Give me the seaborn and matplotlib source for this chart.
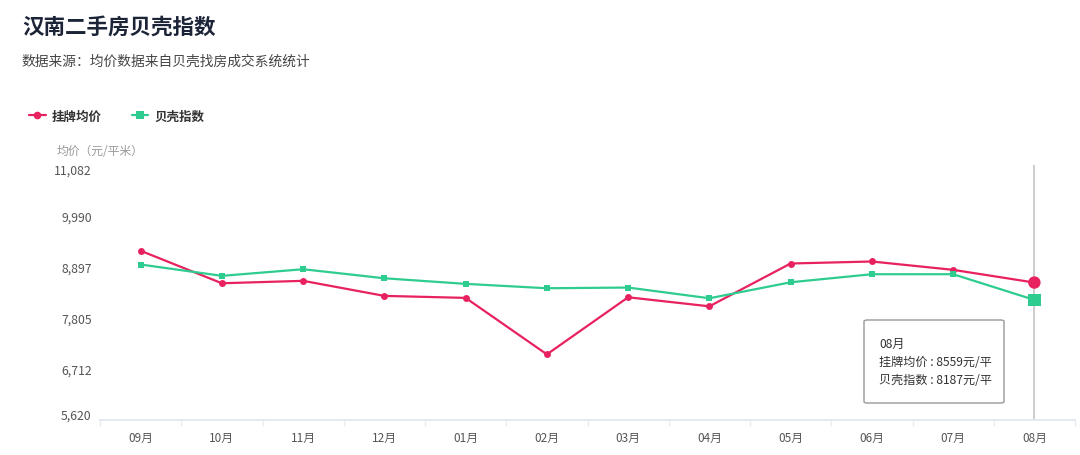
import numpy as np
import pandas as pd
import matplotlib.pyplot as plt
import seaborn as sns
from matplotlib.lines import Line2D
from matplotlib.patches import FancyBboxPatch
from matplotlib.ticker import FixedLocator
from matplotlib.transforms import ScaledTranslation

# data
months = ["09月", "10月", "11月", "12月", "01月", "02月",
          "03月", "04月", "05月", "06月", "07月", "08月"]
listing_price = [9241, 8544, 8596, 8273, 8230, 7018,
                 8243, 8049, 8968, 9011, 8832, 8559]
beike_index = [8946, 8703, 8845, 8651, 8531, 8437,
               8452, 8222, 8565, 8738, 8738, 8187]
series_names = ["挂牌均价", "贝壳指数"]
ytick_vals = [5620, 6712, 7805, 8897, 9990, 11082]
ytick_labels = ["5,620", "6,712", "7,805", "8,897", "9,990", "11,082"]

red = "#e8215f"
green = "#2ecc8f"

df = pd.DataFrame({
    "month": months * 2,
    "value": listing_price + beike_index,
    "series": [series_names[0]] * len(months) + [series_names[1]] * len(months),
})

sns.set_theme(style="white")
plt.rcParams["font.family"] = ["Noto Sans CJK SC", "DejaVu Sans"]

fig = plt.figure(figsize=(10.8, 4.56), dpi=100)
ax = fig.add_axes([100 / 1080, 1 - 420.5 / 456, 975 / 1080, 254.5 / 456])

sns.lineplot(data=df, x="month", y="value", hue="series", style="series",
             palette=[red, green], markers=["o", "s"], dashes=False,
             markersize=5, markeredgewidth=0, linewidth=1.6,
             sort=False, legend=False, ax=ax)

# hovered month: bigger markers and axis pointer
last = df[df["month"] == months[-1]]
sns.scatterplot(data=last, x="month", y="value", hue="series", style="series",
                palette=[red, green], markers=["o", "s"], s=80,
                linewidth=0, legend=False, ax=ax, zorder=5)
ax.axvline(len(months) - 1, color="#c4c4c4", lw=1.2, zorder=1)

ax.set_xlim(-0.5, len(months) - 0.5)
ax.set_ylim(ytick_vals[0], ytick_vals[-1])
ax.set_yticks(ytick_vals)
ax.set_yticklabels(ytick_labels)
ax.set_xlabel("")
ax.set_ylabel("")
ax.xaxis.set_minor_locator(FixedLocator(np.arange(-0.5, len(months), 1)))
ax.tick_params(axis="x", which="major", length=0, pad=8, labelsize=8.5, labelcolor="#555555")
ax.tick_params(axis="x", which="minor", length=4, color="#e8ecf3", width=1, bottom=True)
ax.tick_params(axis="y", length=0, pad=6, labelsize=8.8, labelcolor="#555555")
for side in ["top", "right", "left"]:
    ax.spines[side].set_visible(False)
ax.spines["bottom"].set_color("#e0e6f1")
ax.grid(False)

# end labels nudged inward like the original
ylabs = ax.get_yticklabels()
ylabs[0].set_transform(ylabs[0].get_transform() + ScaledTranslation(0, 6 / 100, fig.dpi_scale_trans))
ylabs[-1].set_transform(ylabs[-1].get_transform() + ScaledTranslation(0, -4 / 100, fig.dpi_scale_trans))

# titles
fig.text(22 / 1080, 1 - 27 / 456, "汉南二手房贝壳指数", fontsize=15.5, fontweight="bold",
         color="#1c2438", va="center", ha="left")
fig.text(22 / 1080, 1 - 62 / 456, "数据来源：均价数据来自贝壳找房成交系统统计", fontsize=9.9,
         color="#444444", va="center", ha="left")
fig.text(57 / 1080, 1 - 152 / 456, "均价（元/平米）", fontsize=8.5, color="#999999",
         va="center", ha="left")

# legend
handles = [Line2D([], [], color=red, marker="o", markersize=5.5, lw=1.6, markeredgewidth=0),
           Line2D([], [], color=green, marker="s", markersize=5.5, lw=1.6, markeredgewidth=0)]
leg = fig.legend(handles, series_names, loc="center left", ncol=2, frameon=False,
                 bbox_to_anchor=(18 / 1080, 1 - 117 / 456), handlelength=1.3,
                 handletextpad=0.5, columnspacing=2.4, fontsize=9)
for t in leg.get_texts():
    t.set_fontweight("bold")
    t.set_color("#333333")

# tooltip
box = FancyBboxPatch((864 / 1080, 1 - 404 / 456), 140 / 1080, 83 / 456,
                     boxstyle="round,pad=0,rounding_size=0.003",
                     transform=fig.transFigure, facecolor="white",
                     edgecolor="#999999", lw=1, zorder=10)
fig.patches.append(box)
tip_lines = [months[-1],
             f"{series_names[0]} : {listing_price[-1]}元/平",
             f"{series_names[1]} : {beike_index[-1]}元/平"]
for i, line in enumerate(tip_lines):
    fig.text(879 / 1080, 1 - (344 + 18 * i) / 456, line, fontsize=8.7,
             color="#333333", va="center", ha="left", zorder=11)

fig.savefig("out.png", dpi=100)
